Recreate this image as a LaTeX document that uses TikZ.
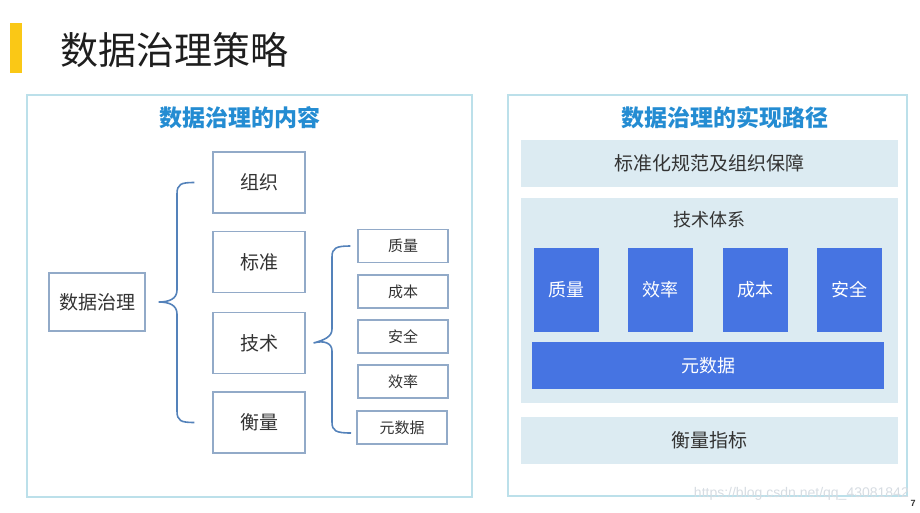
\documentclass[tikz,border=0pt]{standalone}
\usepackage{fontspec}
\setmainfont{Noto Sans CJK SC}
\newfontfamily\wmfont{Liberation Sans}
\usepackage{xcolor}
\usetikzlibrary{positioning}
\definecolor{figInk}{RGB}{51,51,51}
\definecolor{figTitle}{RGB}{30,30,30}
\definecolor{figYellow}{RGB}{250,200,22}
\definecolor{figFrame}{RGB}{188,224,234}
\definecolor{figBoxLine}{RGB}{146,170,200}
\definecolor{figBrace}{RGB}{84,130,186}
\definecolor{figHead}{RGB}{36,140,210}
\definecolor{figBand}{RGB}{220,235,242}
\definecolor{figBlue}{RGB}{70,116,226}
\definecolor{figMark}{RGB}{214,220,226}

\begin{document}
\begin{tikzpicture}[
  x=1pt,y=-1pt,
  title/.style={font=\fontsize{38pt}{42pt}\selectfont,text=figTitle,inner sep=0pt,anchor=west},
  head/.style={font=\bfseries\fontsize{23pt}{27pt}\selectfont,text=figHead,inner sep=0pt},
  frame/.style={draw=figFrame,line width=1.2pt},
  box/.style={draw=figBoxLine,line width=1.2pt,fill=white,text=figInk,inner sep=0pt,font=\fontsize{19pt}{22pt}\selectfont},
  part/.style={box,minimum width=92pt,minimum height=61pt},
  item/.style={box,minimum width=90pt,minimum height=33pt,font=\fontsize{15pt}{18pt}\selectfont},
  band/.style={fill=figBand,text=figInk,inner sep=0pt,minimum width=377pt,minimum height=47pt,font=\fontsize{19pt}{22pt}\selectfont},
  tile/.style={fill=figBlue,text=white,inner sep=0pt,minimum width=65pt,minimum height=84pt,font=\fontsize{18pt}{21pt}\selectfont},
  brace/.style={draw=figBrace,line width=1.6pt}
]
\useasboundingbox (0,0) rectangle (920,513);

% page title
\fill[figYellow] (10,23) rectangle (22,73);
\node[title] (title) at (60,50) {数据治理策略};

% left panel: content
\draw[frame] (27,95) rectangle (472,497);
\node[head] (lefthead) at (240,118) {数据治理的内容};

\node[box,minimum width=96pt,minimum height=58pt] (root) at (97,302) {数据治理};

\node[part] (org) at (259,182.5) {组织};
\node[part] (std) at (259,262) {标准};
\node[part] (tech) at (259,343) {技术};
\node[part] (meas) at (259,422.5) {衡量};

\node[item] (quality) at (403,246) {质量};
\node[item] (cost) at (403,291.5) {成本};
\node[item] (safety) at (403,336.5) {安全};
\node[item] (speed) at (403,381.5) {效率};
\node[item] (meta) at (402,427.5) {元数据};

\coordinate (lbtop) at ([xshift=-18pt]org.west);
\coordinate (lbtip) at ([xshift=13pt]root.east);
\coordinate (lbbot) at ([xshift=-18pt]meas.west);
\draw[brace] (lbtop) .. controls (181,182.5) and (177,184) .. (177,194) -- (177,290)
  .. controls (177,299) and (169,302) .. (lbtip)
  .. controls (169,302) and (177,305) .. (177,314) -- (177,411)
  .. controls (177,421) and (181,422.5) .. (lbbot);

\coordinate (rbtop) at ([xshift=-7pt]quality.west);
\coordinate (rbtip) at ([xshift=8pt]tech.east);
\coordinate (rbbot) at (351,433);
\draw[brace] (rbtop) .. controls (336,246) and (332,248) .. (332,257) -- (332,329)
  .. controls (332,337) and (324,340) .. (rbtip)
  .. controls (324,340) and (332,343) .. (332,351) -- (332,422)
  .. controls (332,431) and (336,433) .. (rbbot);

% right panel: path
\draw[frame] (508,95) rectangle (907,496);
\node[head] (righthead) at (725,118) {数据治理的实现路径};

\node[band] (norms) at (709.5,163.5) {标准化规范及组织保障};
\node[band,minimum height=205pt] (system) at (709.5,300.5) {};
\node[text=figInk,inner sep=0pt,font=\fontsize{18pt}{21pt}\selectfont] (syslabel) at (709.5,220) {技术体系};

\node[tile] (tquality) at (566,290) {质量};
\node[tile] (tspeed) at (660.5,290) {效率};
\node[tile] (tcost) at (755.5,290) {成本};
\node[tile] (tsafety) at (849.5,290) {安全};
\node[tile,minimum width=352pt,minimum height=47pt] (tmeta) at (708,365.5) {元数据};

\node[band] (metrics) at (709.5,440.5) {衡量指标};

% watermark
\node[anchor=east,inner sep=0pt,text=figMark,font=\wmfont\fontsize{14pt}{16pt}\selectfont] (mark) at (909,494) {https://blog.csdn.net/qq\_43081842};
\node[inner sep=0pt,text=figInk,font=\wmfont\bfseries\fontsize{9pt}{10pt}\selectfont] (pageno) at (913,503) {7};

\end{tikzpicture}
\end{document}
